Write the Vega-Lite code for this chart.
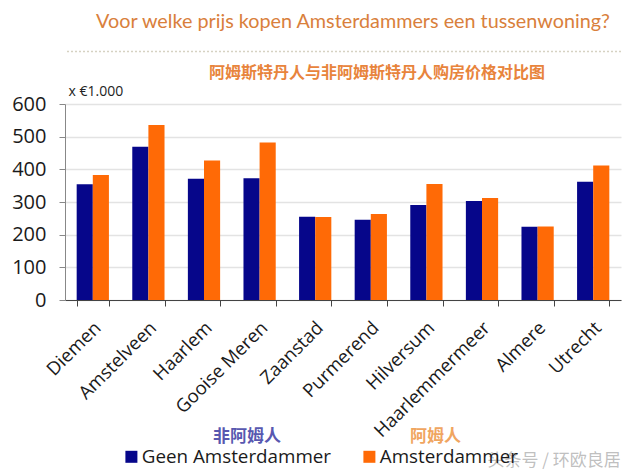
{
  "$schema": "https://vega.github.io/schema/vega-lite/v6.json",
  "width": 556,
  "height": 196,
  "autosize": {"type": "none"},
  "padding": {"left": 65, "top": 104, "right": 19, "bottom": 176},
  "background": "white",
  "title": {
    "text": "Voor welke prijs kopen Amsterdammers een tussenwoning?",
    "subtitle": "\u200b\u3000\u3000\u3000阿姆斯特丹人与非阿姆斯特丹人购房价格对比图",
    "anchor": "middle",
    "frame": "group",
    "dx": 10,
    "offset": -30,
    "font": "Lato",
    "fontSize": 19.8,
    "fontWeight": "normal",
    "color": "#d9803c",
    "subtitleFont": "Noto Sans CJK SC",
    "subtitleFontSize": 16,
    "subtitleFontWeight": "bold",
    "subtitleColor": "#e8843c",
    "subtitlePadding": 33
  },
  "datasets": {
    "prices": [
      {"city": "Diemen", "group": "Geen Amsterdammer", "cn": "非阿姆人", "value": 354},
      {"city": "Diemen", "group": "Amsterdammer", "cn": "阿姆人", "value": 383},
      {"city": "Amstelveen", "group": "Geen Amsterdammer", "cn": "非阿姆人", "value": 469},
      {"city": "Amstelveen", "group": "Amsterdammer", "cn": "阿姆人", "value": 536},
      {"city": "Haarlem", "group": "Geen Amsterdammer", "cn": "非阿姆人", "value": 371},
      {"city": "Haarlem", "group": "Amsterdammer", "cn": "阿姆人", "value": 427},
      {"city": "Gooise Meren", "group": "Geen Amsterdammer", "cn": "非阿姆人", "value": 373},
      {"city": "Gooise Meren", "group": "Amsterdammer", "cn": "阿姆人", "value": 482},
      {"city": "Zaanstad", "group": "Geen Amsterdammer", "cn": "非阿姆人", "value": 255},
      {"city": "Zaanstad", "group": "Amsterdammer", "cn": "阿姆人", "value": 254},
      {"city": "Purmerend", "group": "Geen Amsterdammer", "cn": "非阿姆人", "value": 246},
      {"city": "Purmerend", "group": "Amsterdammer", "cn": "阿姆人", "value": 263},
      {"city": "Hilversum", "group": "Geen Amsterdammer", "cn": "非阿姆人", "value": 291},
      {"city": "Hilversum", "group": "Amsterdammer", "cn": "阿姆人", "value": 355},
      {"city": "Haarlemmermeer", "group": "Geen Amsterdammer", "cn": "非阿姆人", "value": 303},
      {"city": "Haarlemmermeer", "group": "Amsterdammer", "cn": "阿姆人", "value": 312},
      {"city": "Almere", "group": "Geen Amsterdammer", "cn": "非阿姆人", "value": 224},
      {"city": "Almere", "group": "Amsterdammer", "cn": "阿姆人", "value": 225},
      {"city": "Utrecht", "group": "Geen Amsterdammer", "cn": "非阿姆人", "value": 362},
      {"city": "Utrecht", "group": "Amsterdammer", "cn": "阿姆人", "value": 412}
    ],
    "separator": [{"line": "title separator"}]
  },
  "layer": [
    {
      "data": {"name": "prices"},
      "mark": {"type": "bar"},
      "encoding": {
        "x": {
          "field": "city",
          "type": "nominal",
          "sort": null,
          "title": "头条号 / 环欧良居",
          "scale": {"paddingInner": 0.42, "paddingOuter": 0.21}
        },
        "y": {
          "field": "value",
          "type": "quantitative",
          "title": "x €1.000",
          "scale": {"domain": [0, 600], "nice": false}
        },
        "xOffset": {
          "field": "group",
          "type": "nominal",
          "scale": {"domain": ["Geen Amsterdammer", "Amsterdammer"], "paddingInner": 0}
        },
        "color": {
          "field": "group",
          "type": "nominal",
          "scale": {"domain": ["Geen Amsterdammer", "Amsterdammer"], "range": ["#06068a", "#ff6a06"]},
          "legend": {
            "title": null,
            "orient": "none",
            "direction": "horizontal",
            "legendX": 57,
            "legendY": 343,
            "symbolType": "square",
            "symbolSize": 144,
            "symbolStrokeWidth": 0,
            "symbolOpacity": 1,
            "labelFont": "Open Sans",
            "labelFontSize": 18.8,
            "labelColor": "#1a1a1a",
            "labelOffset": 1,
            "labelLimit": 0,
            "columnPadding": 29
          }
        }
      }
    },
    {
      "data": {"name": "prices"},
      "mark": {"type": "point", "opacity": 0},
      "encoding": {
        "x": {"field": "city", "type": "nominal", "sort": null, "title": "头条号 / 环欧良居"},
        "y": {"field": "value", "type": "quantitative", "title": "x €1.000"},
        "xOffset": {"field": "group", "type": "nominal"},
        "shape": {
          "field": "cn",
          "type": "nominal",
          "scale": {"domain": ["非阿姆人", "阿姆人"]},
          "legend": {
            "title": null,
            "orient": "none",
            "direction": "horizontal",
            "legendX": 131,
            "legendY": 324,
            "symbolOpacity": 0,
            "symbolSize": 4,
            "labelFont": "Noto Sans CJK SC",
            "labelFontSize": 17,
            "labelFontWeight": "bold",
            "labelOffset": 0,
            "labelLimit": 0,
            "columnPadding": 112,
            "labelColor": {"expr": "datum.value === '阿姆人' ? '#f0a560' : '#5858b0'"}
          }
        }
      }
    },
    {
      "data": {"name": "separator"},
      "mark": {"type": "rule", "color": "#d6d2c2", "strokeWidth": 1.5, "strokeDash": [2, 2]},
      "encoding": {
        "y": {"datum": 761, "type": "quantitative", "title": "x €1.000"}
      }
    }
  ],
  "config": {
    "view": {"stroke": null},
    "axisX": {
      "titleFont": "Noto Sans CJK SC",
      "titleFontSize": 17,
      "titleFontWeight": "normal",
      "titleColor": "#b8b8b8",
      "titleOpacity": 0.9,
      "titleAnchor": "start",
      "titleAlign": "left",
      "titleBaseline": "middle",
      "titleX": 422,
      "titleY": 160,
      "labelAngle": -45,
      "labelFont": "Open Sans",
      "labelFontSize": 18.5,
      "labelColor": "#1a1a1a",
      "labelPadding": 12,
      "labelOffset": -2,
      "labelLimit": 0,
      "tickBand": "extent",
      "tickSize": 6,
      "tickColor": "#444",
      "domainColor": "#444",
      "domainWidth": 1.2,
      "grid": false
    },
    "axisY": {
      "titleAngle": 0,
      "titleAlign": "left",
      "titleBaseline": "middle",
      "titleX": 3,
      "titleY": -13,
      "titleFont": "Open Sans",
      "titleFontSize": 14,
      "titleFontWeight": "normal",
      "titleColor": "#222",
      "tickCount": 6,
      "labelFont": "Open Sans",
      "labelFontSize": 20,
      "labelColor": "#1a1a1a",
      "labelPadding": 13,
      "tickSize": 6,
      "tickColor": "#888",
      "domainColor": "#888",
      "grid": true,
      "gridColor": "#e3e3e3",
      "gridWidth": 1.5
    }
  }
}
